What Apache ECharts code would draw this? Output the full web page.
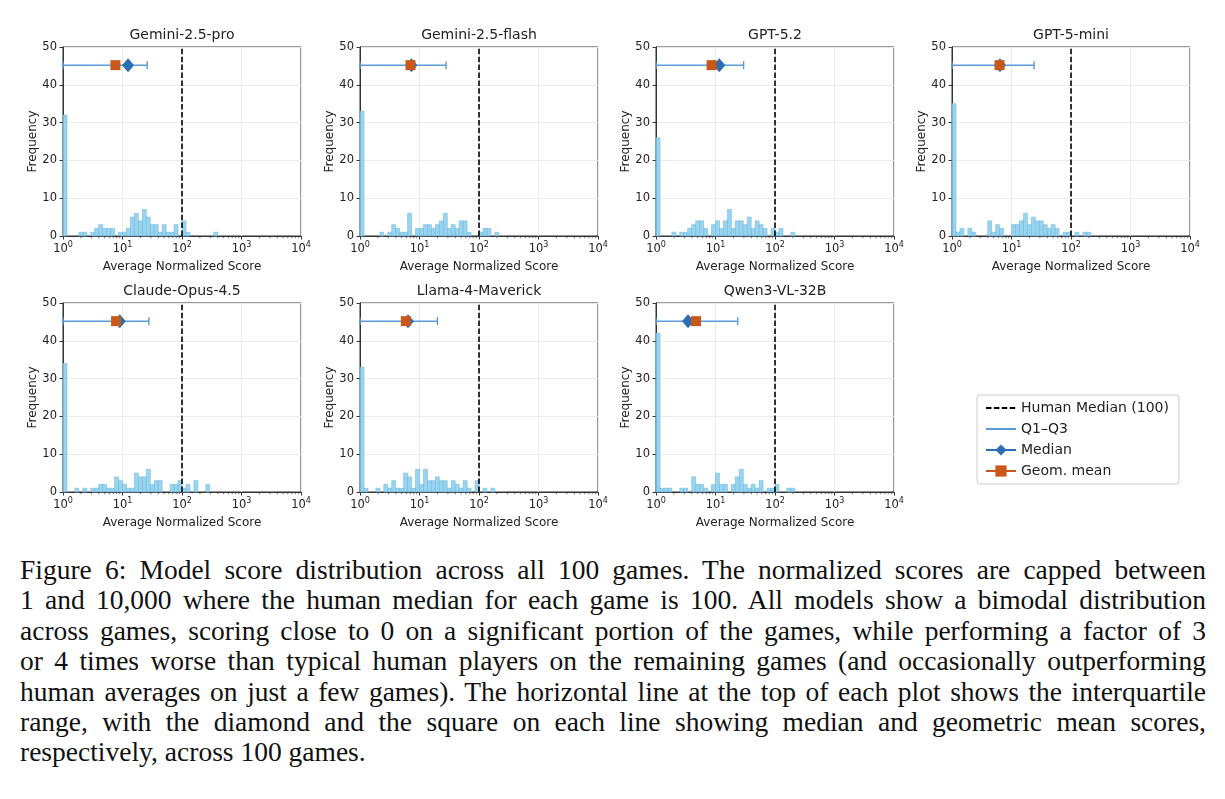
<!DOCTYPE html>
<html>
<head>
  <meta charset="utf-8" />
  <title>Model score distribution</title>
  <style type="text/css">
    body {
      margin: 0;
      background: #fff;
    }

    #main {
      position: absolute;
      left: 0;
      top: 0;
      width: 1225px;
      height: 545px;
    }

    #caption {
      position: absolute;
      left: 20px;
      top: 555px;
      width: 1186px;
      font-family: "Liberation Serif", "DejaVu Serif", serif;
      font-size: 27.5px;
      line-height: 30.4px;
      color: #111;
    }

    #caption div {
      text-align: justify;
      text-align-last: justify;
    }

    #caption div.last {
      text-align-last: left;
    }
  </style>
</head>
<body>
  <div id="main"></div>
  <div id="caption">
    <div>Figure 6: Model score distribution across all 100 games. The normalized scores are capped between</div>
    <div>1 and 10,000 where the human median for each game is 100. All models show a bimodal distribution</div>
    <div>across games, scoring close to 0 on a significant portion of the games, while performing a factor of 3</div>
    <div>or 4 times worse than typical human players on the remaining games (and occasionally outperforming</div>
    <div>human averages on just a few games). The horizontal line at the top of each plot shows the interquartile</div>
    <div>range, with the diamond and the square on each line showing median and geometric mean scores,</div>
    <div class="last">respectively, across 100 games.</div>
  </div>
  <script src="https://cdn.jsdelivr.net/npm/echarts@6/dist/echarts.min.js"></script>
  <script>
    // models, one panel each
    var MODELS = ['Gemini-2.5-pro', 'Gemini-2.5-flash', 'GPT-5.2', 'GPT-5-mini',
      'Claude-Opus-4.5', 'Llama-4-Maverick', 'Qwen3-VL-32B'];

    // histogram counts, log bins of 1/15 decade starting at 1
    var BINS_PER_DECADE = 15;
    var COUNTS_GEMINI_PRO = [32, 0, 0, 0, 1, 1, 0, 1, 2, 3, 2, 2, 2, 0, 1, 1, 2, 5, 6, 4, 7, 5, 3, 3, 1, 3, 1, 1, 3, 0, 4, 1, 0, 0, 0, 0, 0, 0, 1, 0];
    var COUNTS_GEMINI_FLASH = [33, 0, 0, 0, 0, 1, 0, 1, 3, 2, 1, 1, 6, 0, 2, 2, 3, 3, 2, 3, 4, 6, 2, 3, 2, 4, 4, 1, 0, 0, 1, 2, 2, 0, 1, 0, 0, 0, 0, 0];
    var COUNTS_GPT_52 = [26, 0, 0, 0, 1, 0, 1, 1, 2, 3, 4, 4, 2, 0, 3, 4, 2, 4, 7, 2, 4, 4, 3, 5, 2, 4, 3, 2, 0, 2, 1, 2, 0, 0, 1, 0, 0, 0, 0, 0];
    var COUNTS_GPT_5_MINI = [35, 1, 2, 0, 2, 1, 0, 0, 0, 4, 1, 3, 2, 0, 0, 3, 3, 4, 6, 3, 5, 4, 4, 3, 2, 3, 2, 0, 1, 1, 0, 1, 0, 1, 1, 0, 0, 0, 0, 0];
    var COUNTS_CLAUDE = [34, 0, 0, 1, 0, 1, 0, 1, 1, 2, 2, 1, 1, 4, 3, 2, 1, 1, 5, 4, 4, 6, 2, 3, 3, 0, 0, 2, 2, 3, 1, 2, 0, 3, 0, 0, 2, 0, 0, 0];
    var COUNTS_LLAMA = [33, 1, 0, 0, 1, 0, 2, 1, 3, 1, 1, 5, 4, 1, 6, 2, 6, 3, 3, 4, 3, 3, 1, 3, 2, 1, 3, 1, 0, 3, 0, 1, 0, 1, 0, 0, 0, 0, 0, 0];
    var COUNTS_QWEN = [42, 1, 1, 1, 0, 0, 1, 1, 0, 4, 2, 2, 1, 0, 2, 5, 2, 2, 0, 2, 4, 6, 2, 1, 2, 1, 3, 0, 1, 1, 2, 0, 0, 1, 1, 0, 0, 0, 0, 0];
    var COUNTS = [COUNTS_GEMINI_PRO, COUNTS_GEMINI_FLASH, COUNTS_GPT_52, COUNTS_GPT_5_MINI,
      COUNTS_CLAUDE, COUNTS_LLAMA, COUNTS_QWEN];

    // summary markers
    var Q1 = [1, 1, 1, 1, 1, 1, 1];
    var Q3 = [26, 28, 29.7, 24, 27.8, 20, 23.6];
    var MEDIAN = [12.4, 7.3, 11.6, 6.4, 9.0, 6.4, 3.45];
    var GEOM_MEAN = [7.6, 7.05, 8.6, 6.3, 7.8, 5.9, 4.7];
    var MARKER_Y = 45.2;
    var HUMAN_MEDIAN = 100;

    // axes
    var X_TICKS = [1, 10, 100, 1000, 10000];
    var X_MINOR = [2, 3, 4, 5, 6, 7, 8, 9];
    var Y_TICKS = [0, 10, 20, 30, 40, 50];

    var GRID_LEFT = [63, 360, 656, 952];
    var ROW_TOP = [47, 303];
    var GRID_W = 238;
    var GRID_H = 189;

    var TEXT = '#222';
    var SPINE = '#333';
    var GRIDLINE = '#ebebeb';
    var BAR_FILL = 'rgba(135, 206, 235, 0.85)';
    var BAR_EDGE = '#74b9df';
    var IQR_COLOR = '#5b9bd8';
    var MED_COLOR = '#2b6fb2';
    var GM_COLOR = '#c8581a';

    var minorValues = [];
    for (var d = 0; d < X_TICKS.length - 1; d++) {
      X_MINOR.forEach(function (m) {
        minorValues.push([m * X_TICKS[d], 0]);
      });
    }

    var myChart = echarts.init(document.getElementById('main'), null, { renderer: 'canvas' });

    function renderBar(params, api) {
      var n = api.value(2);
      if (!n) return;
      var p0 = api.coord([api.value(0), n]);
      var p1 = api.coord([api.value(1), 0]);
      return {
        type: 'rect',
        shape: { x: p0[0], y: p0[1], width: p1[0] - p0[0], height: p1[1] - p0[1] },
        style: { fill: BAR_FILL, stroke: BAR_EDGE, lineWidth: 0.6 }
      };
    }

    function renderMinorTick(params, api) {
      var p = api.coord([api.value(0), 0]);
      return {
        type: 'line',
        shape: { x1: p[0], y1: p[1], x2: p[0], y2: p[1] + 2.2 },
        style: { stroke: SPINE, lineWidth: 0.7 }
      };
    }

    var grids = [], xAxes = [], yAxes = [], titles = [], series = [];

    MODELS.forEach(function (name, i) {
      var left = GRID_LEFT[i % 4];
      var top = ROW_TOP[Math.floor(i / 4)];
      grids.push({
        left: left, top: top, width: GRID_W, height: GRID_H,
        show: true, borderColor: SPINE, borderWidth: 1
      });
      titles.push({
        text: name,
        left: left + GRID_W / 2,
        top: top - 19,
        textAlign: 'center',
        padding: 0,
        textStyle: { fontSize: 14, fontWeight: 'normal', color: TEXT, fontFamily: 'DejaVu Sans' }
      });
      xAxes.push({
        type: 'log', logBase: 10, min: X_TICKS[0], max: X_TICKS[X_TICKS.length - 1],
        gridIndex: i,
        name: 'Average Normalized Score', nameLocation: 'middle', nameGap: 25,
        nameTextStyle: { fontSize: 12, color: TEXT, fontFamily: 'DejaVu Sans' },
        axisLine: { lineStyle: { color: SPINE, width: 1 } },
        axisTick: { length: 3.5, lineStyle: { color: SPINE } },
        minorTick: { show: false },
        axisLabel: {
          margin: 5,
          color: TEXT,
          fontFamily: 'DejaVu Sans',
          formatter: function (v) {
            return '{b|10}{s|' + X_TICKS.indexOf(v) + '}';
          },
          rich: {
            b: { fontSize: 11.5, lineHeight: 14, color: TEXT, fontFamily: 'DejaVu Sans', verticalAlign: 'bottom' },
            s: { fontSize: 8, lineHeight: 14, color: TEXT, fontFamily: 'DejaVu Sans', verticalAlign: 'top' }
          }
        },
        splitLine: { show: true, lineStyle: { color: GRIDLINE } }
      });
      yAxes.push({
        type: 'value', min: Y_TICKS[0], max: Y_TICKS[Y_TICKS.length - 1], interval: 10,
        gridIndex: i,
        name: 'Frequency', nameLocation: 'middle', nameGap: 23,
        nameTextStyle: { fontSize: 12, color: TEXT, fontFamily: 'DejaVu Sans' },
        axisLine: { show: true, lineStyle: { color: SPINE } },
        axisTick: { show: true, length: 3.5, lineStyle: { color: SPINE } },
        axisLabel: { fontSize: 11.5, color: TEXT, margin: 6, fontFamily: 'DejaVu Sans' },
        splitLine: { show: true, lineStyle: { color: GRIDLINE } }
      });

      var bins = [];
      COUNTS[i].forEach(function (c, k) {
        if (c > 0) {
          bins.push([Math.pow(10, k / BINS_PER_DECADE), Math.pow(10, (k + 1) / BINS_PER_DECADE), c]);
        }
      });

      series.push({
        name: 'hist', type: 'custom', xAxisIndex: i, yAxisIndex: i,
        renderItem: renderBar, encode: { x: [0, 1], y: 2 }, data: bins, silent: true, z: 2
      });
      series.push({
        name: 'minor', type: 'custom', xAxisIndex: i, yAxisIndex: i, clip: false,
        renderItem: renderMinorTick, encode: { x: 0, y: 1 }, data: minorValues, silent: true, z: 3
      });
      series.push({
        name: 'Human Median (100)', type: 'line', xAxisIndex: i, yAxisIndex: i,
        data: [[HUMAN_MEDIAN, Y_TICKS[0]], [HUMAN_MEDIAN, Y_TICKS[Y_TICKS.length - 1]]],
        symbol: 'rect', showSymbol: false, color: '#000',
        itemStyle: { opacity: 0 },
        lineStyle: { color: '#000', width: 1.6, type: [5.5, 2.4] }, z: 4
      });
      series.push({
        name: 'Q1–Q3', type: 'line', xAxisIndex: i, yAxisIndex: i,
        data: [
          { value: [Q1[i], MARKER_Y], symbol: 'rect', symbolSize: [1.4, 8], itemStyle: { opacity: 1 } },
          { value: [Q3[i], MARKER_Y], symbol: 'rect', symbolSize: [1.4, 8], itemStyle: { opacity: 1 } }
        ],
        symbol: 'rect', color: IQR_COLOR,
        itemStyle: { color: IQR_COLOR, opacity: 0 },
        lineStyle: { color: IQR_COLOR, width: 1.5 }, z: 5
      });
      series.push({
        name: 'Median', type: 'line', xAxisIndex: i, yAxisIndex: i,
        data: [[MEDIAN[i], MARKER_Y]],
        symbol: 'diamond', symbolSize: [12, 14], color: MED_COLOR,
        itemStyle: { color: MED_COLOR }, lineStyle: { color: MED_COLOR, width: 1.5 }, z: 6
      });
      series.push({
        name: 'Geom. mean', type: 'line', xAxisIndex: i, yAxisIndex: i,
        data: [[GEOM_MEAN[i], MARKER_Y]],
        symbol: 'rect', symbolSize: 10, color: GM_COLOR,
        itemStyle: { color: GM_COLOR }, lineStyle: { color: GM_COLOR, width: 1.5 }, z: 7
      });
    });

    var option = {
      animation: false,
      textStyle: { fontFamily: 'DejaVu Sans' },
      title: titles,
      grid: grids,
      xAxis: xAxes,
      yAxis: yAxes,
      legend: {
        orient: 'vertical',
        left: 977,
        top: 395,
        padding: [6, 10, 6, 8],
        itemWidth: 30,
        itemHeight: 14,
        itemGap: 7,
        borderColor: '#ccc',
        borderWidth: 1,
        borderRadius: 3,
        selectedMode: false,
        textStyle: { fontSize: 14, color: TEXT, fontFamily: 'DejaVu Sans' },
        data: [
          { name: 'Human Median (100)', itemStyle: { opacity: 0 } },
          { name: 'Q1–Q3', itemStyle: { opacity: 0 } },
          'Median',
          'Geom. mean'
        ]
      },
      series: series
    };
    myChart.setOption(option);
  </script>
</body>
</html>
